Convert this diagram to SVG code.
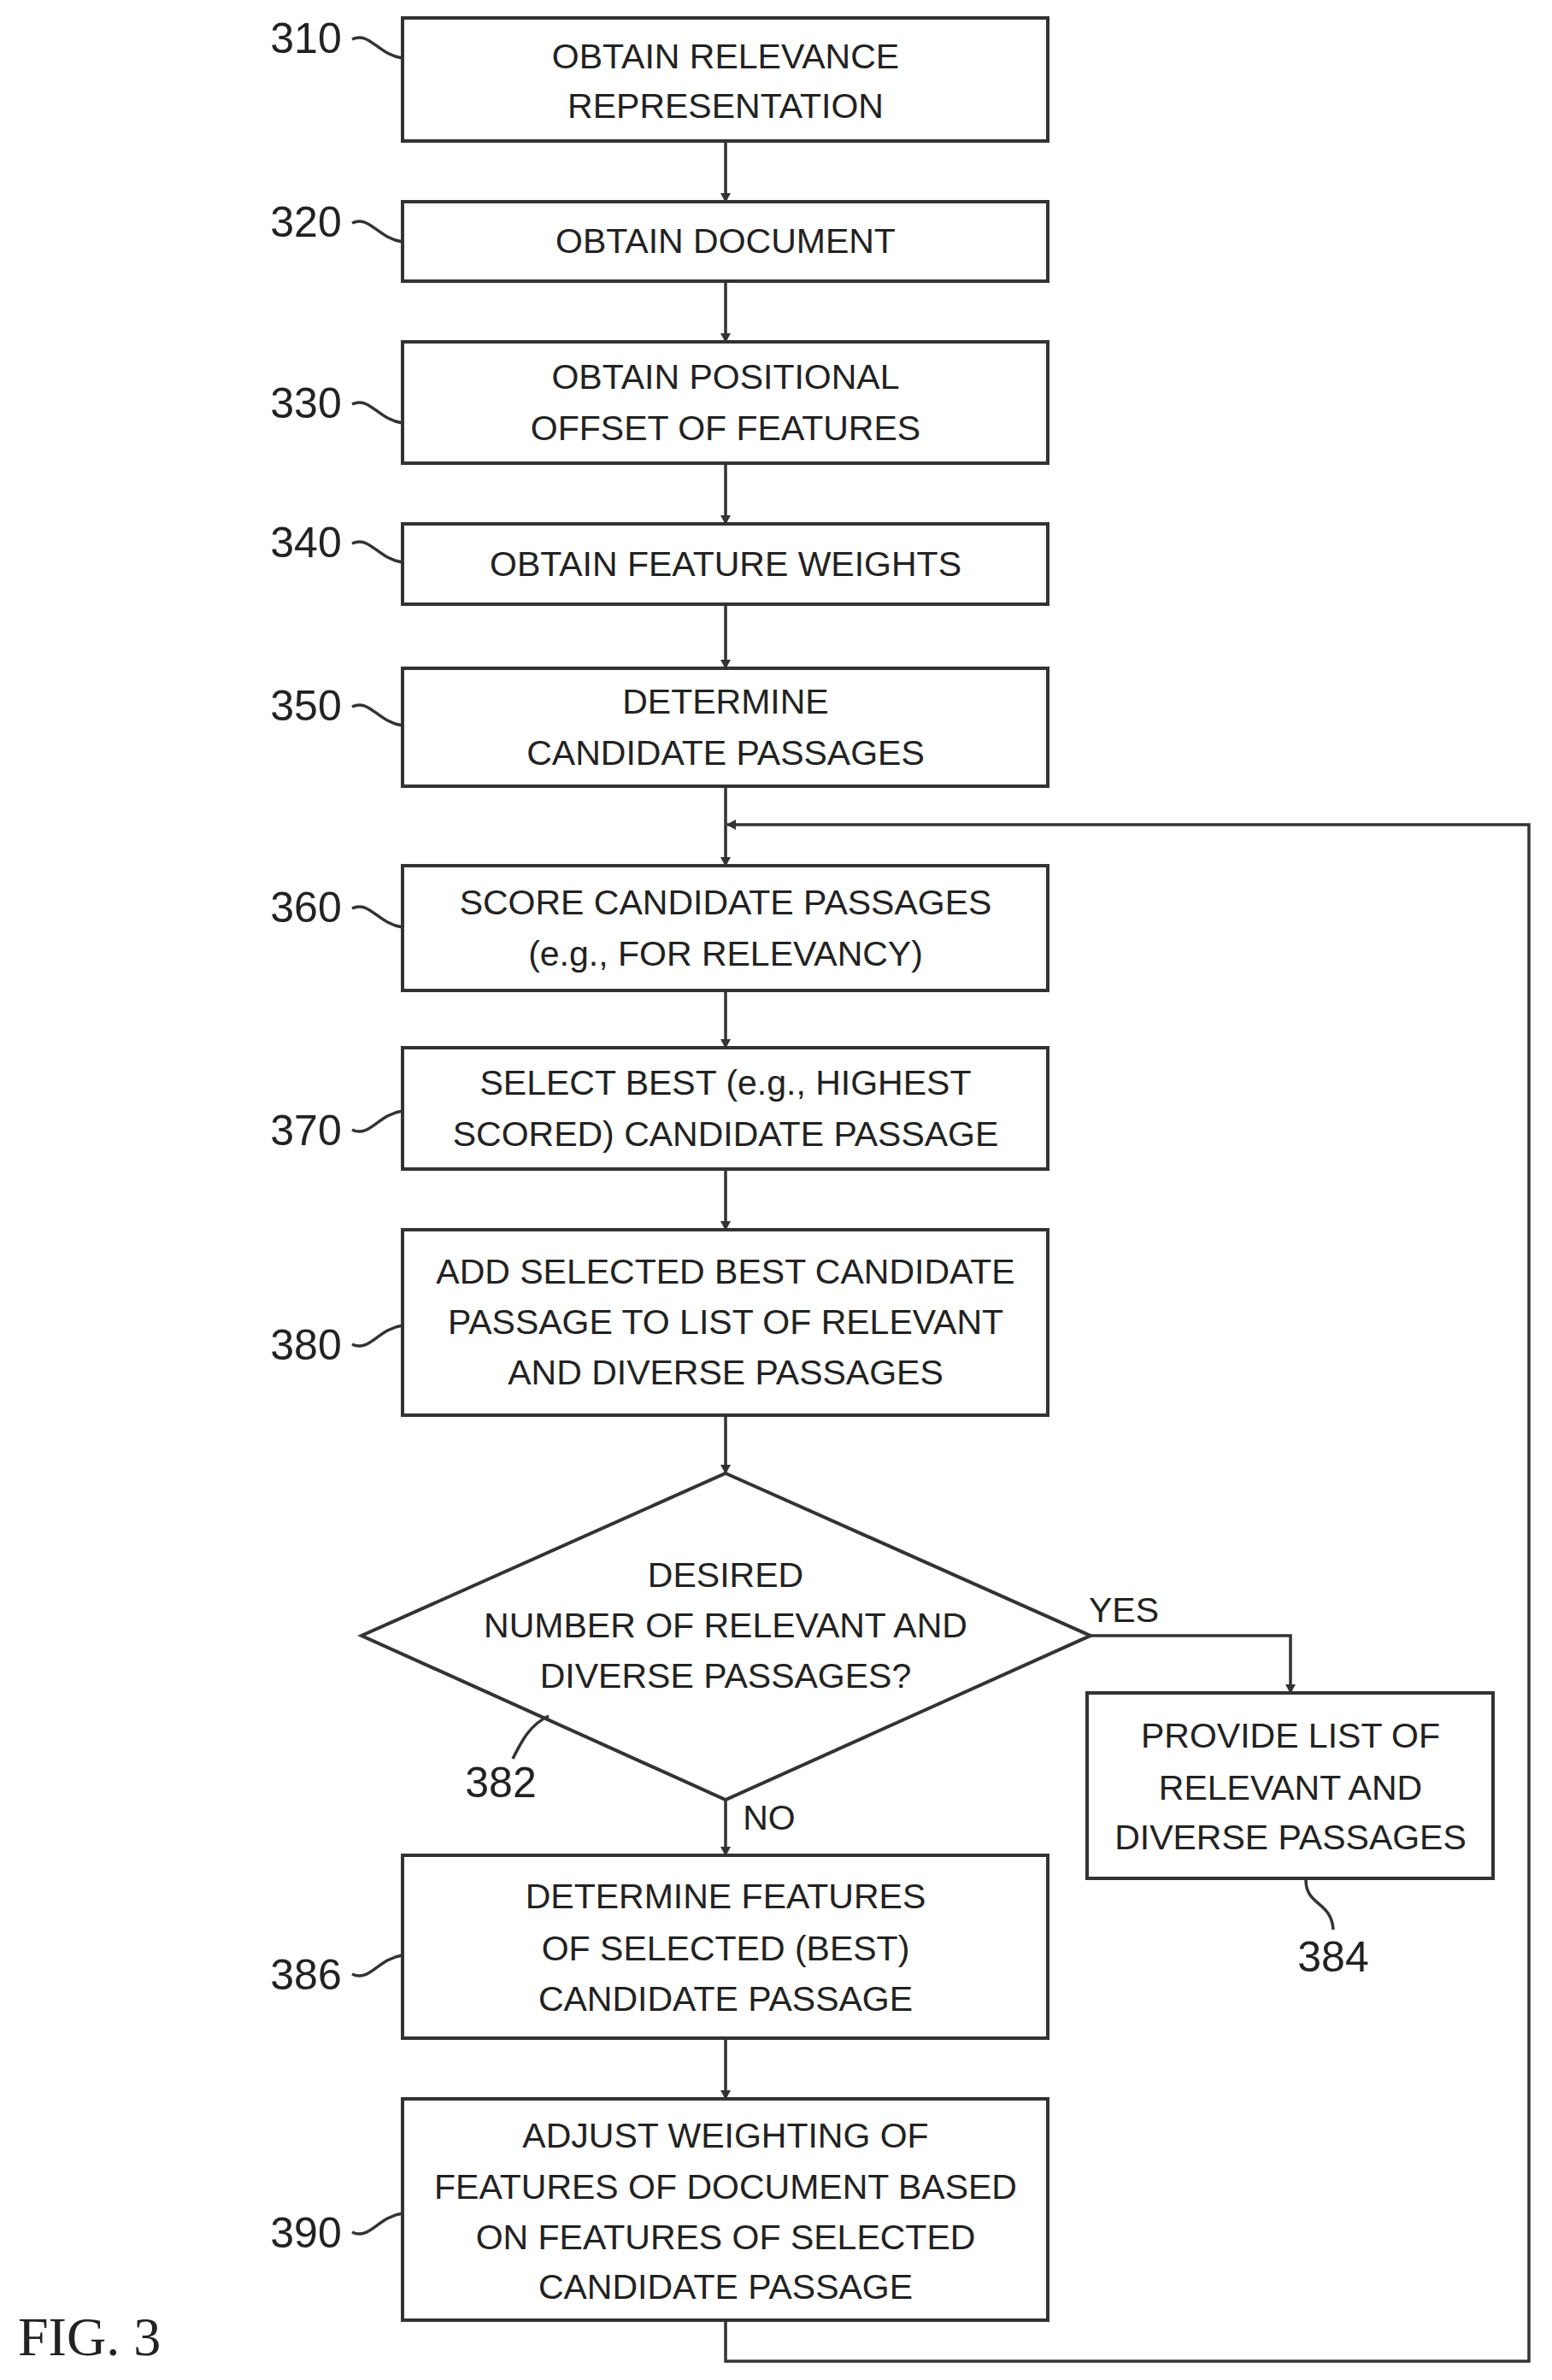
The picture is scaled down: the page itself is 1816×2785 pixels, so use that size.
<svg xmlns="http://www.w3.org/2000/svg" width="1816" height="2785" viewBox="0 0 1816 2785">
<style>
.b{fill:#fff;stroke:#333;stroke-width:4}
.t{font-family:"Liberation Sans",Arial,sans-serif;font-size:41px;fill:#222;text-anchor:middle}
.l{font-family:"Liberation Sans",Arial,sans-serif;font-size:50px;fill:#222;text-anchor:middle}
.c{fill:none;stroke:#333;stroke-width:3.5}
</style>
<defs><marker id="a" markerWidth="12" markerHeight="12" refX="10" refY="6" orient="auto" markerUnits="userSpaceOnUse"><path d="M0,0 L11,6 L0,12 z" fill="#333"/></marker></defs>
<rect width="1816" height="2785" fill="#fff"/>
<g id="connectors">
<path class="c" d="M849,165V236" marker-end="url(#a)"/>
<path class="c" d="M849,329V400" marker-end="url(#a)"/>
<path class="c" d="M849,542V613" marker-end="url(#a)"/>
<path class="c" d="M849,707V782" marker-end="url(#a)"/>
<path class="c" d="M849,920V1013" marker-end="url(#a)"/>
<path class="c" d="M849,1159V1226" marker-end="url(#a)"/>
<path class="c" d="M849,1368V1439" marker-end="url(#a)"/>
<path class="c" d="M849,1656V1724" marker-end="url(#a)"/>
<path class="c" d="M849,2106V2171" marker-end="url(#a)"/>
<path class="c" d="M849,2385V2456" marker-end="url(#a)"/>
<path class="c" d="M1276,1914H1510V1981" marker-end="url(#a)"/>
<path class="c" d="M849,2715V2763H1789V965H851" marker-end="url(#a)"/>
<text class="t" x="1315" y="1898">YES</text>
<text class="t" x="900" y="2141">NO</text>
</g>
<g id="n310"><rect class="b" x="471" y="21" width="755" height="144"/><text class="t" x="849" y="80">OBTAIN RELEVANCE</text><text class="t" x="849" y="138">REPRESENTATION</text><text class="l" x="358" y="62">310</text><path class="c" d="M412,46c20,-10 30,18 59,22"/></g>
<g id="n320"><rect class="b" x="471" y="236" width="755" height="93"/><text class="t" x="849" y="296">OBTAIN DOCUMENT</text><text class="l" x="358" y="277">320</text><path class="c" d="M412,261c20,-10 30,18 59,22"/></g>
<g id="n330"><rect class="b" x="471" y="400" width="755" height="142"/><text class="t" x="849" y="455">OBTAIN POSITIONAL</text><text class="t" x="849" y="515">OFFSET OF FEATURES</text><text class="l" x="358" y="489">330</text><path class="c" d="M412,473c20,-10 30,18 59,22"/></g>
<g id="n340"><rect class="b" x="471" y="613" width="755" height="94"/><text class="t" x="849" y="674">OBTAIN FEATURE WEIGHTS</text><text class="l" x="358" y="652">340</text><path class="c" d="M412,636c20,-10 30,18 59,22"/></g>
<g id="n350"><rect class="b" x="471" y="782" width="755" height="138"/><text class="t" x="849" y="835">DETERMINE</text><text class="t" x="849" y="895">CANDIDATE PASSAGES</text><text class="l" x="358" y="843">350</text><path class="c" d="M412,827c20,-10 30,18 59,22"/></g>
<g id="n360"><rect class="b" x="471" y="1013" width="755" height="146"/><text class="t" x="849" y="1070">SCORE CANDIDATE PASSAGES</text><text class="t" x="849" y="1130">(e.g., FOR RELEVANCY)</text><text class="l" x="358" y="1079">360</text><path class="c" d="M412,1063c20,-10 30,18 59,22"/></g>
<g id="n370"><rect class="b" x="471" y="1226" width="755" height="142"/><text class="t" x="849" y="1281">SELECT BEST (e.g., HIGHEST</text><text class="t" x="849" y="1341">SCORED) CANDIDATE PASSAGE</text><text class="l" x="358" y="1340">370</text><path class="c" d="M412,1322c20,10 30,-18 59,-22"/></g>
<g id="n380"><rect class="b" x="471" y="1439" width="755" height="217"/><text class="t" x="849" y="1502">ADD SELECTED BEST CANDIDATE</text><text class="t" x="849" y="1561">PASSAGE TO LIST OF RELEVANT</text><text class="t" x="849" y="1620">AND DIVERSE PASSAGES</text><text class="l" x="358" y="1591">380</text><path class="c" d="M412,1573c20,10 30,-18 59,-22"/></g>
<g id="n382"><polygon class="b" points="849,1724 1276,1914 849,2106 423,1914"/><text class="t" x="849" y="1857">DESIRED</text><text class="t" x="849" y="1916">NUMBER OF RELEVANT AND</text><text class="t" x="849" y="1975">DIVERSE PASSAGES?</text><text class="l" x="586" y="2103">382</text><path class="c" d="M600,2058c10,-20 20,-40 42,-50"/></g>
<g id="n384"><rect class="b" x="1272" y="1981" width="475" height="217"/><text class="t" x="1510" y="2045">PROVIDE LIST OF</text><text class="t" x="1510" y="2106">RELEVANT AND</text><text class="t" x="1510" y="2164">DIVERSE PASSAGES</text><text class="l" x="1560" y="2307">384</text><path class="c" d="M1528,2200c0,30 30,25 32,58"/></g>
<g id="n386"><rect class="b" x="471" y="2171" width="755" height="214"/><text class="t" x="849" y="2233">DETERMINE FEATURES</text><text class="t" x="849" y="2294">OF SELECTED (BEST)</text><text class="t" x="849" y="2353">CANDIDATE PASSAGE</text><text class="l" x="358" y="2328">386</text><path class="c" d="M412,2310c20,10 30,-18 59,-22"/></g>
<g id="n390"><rect class="b" x="471" y="2456" width="755" height="259"/><text class="t" x="849" y="2513">ADJUST WEIGHTING OF</text><text class="t" x="849" y="2573">FEATURES OF DOCUMENT BASED</text><text class="t" x="849" y="2632">ON FEATURES OF SELECTED</text><text class="t" x="849" y="2690">CANDIDATE PASSAGE</text><text class="l" x="358" y="2630">390</text><path class="c" d="M412,2612c20,10 30,-18 59,-22"/></g>
<text x="21" y="2756" font-family="'Liberation Serif','Times New Roman',serif" font-size="64" fill="#222">FIG. 3</text>
</svg>
